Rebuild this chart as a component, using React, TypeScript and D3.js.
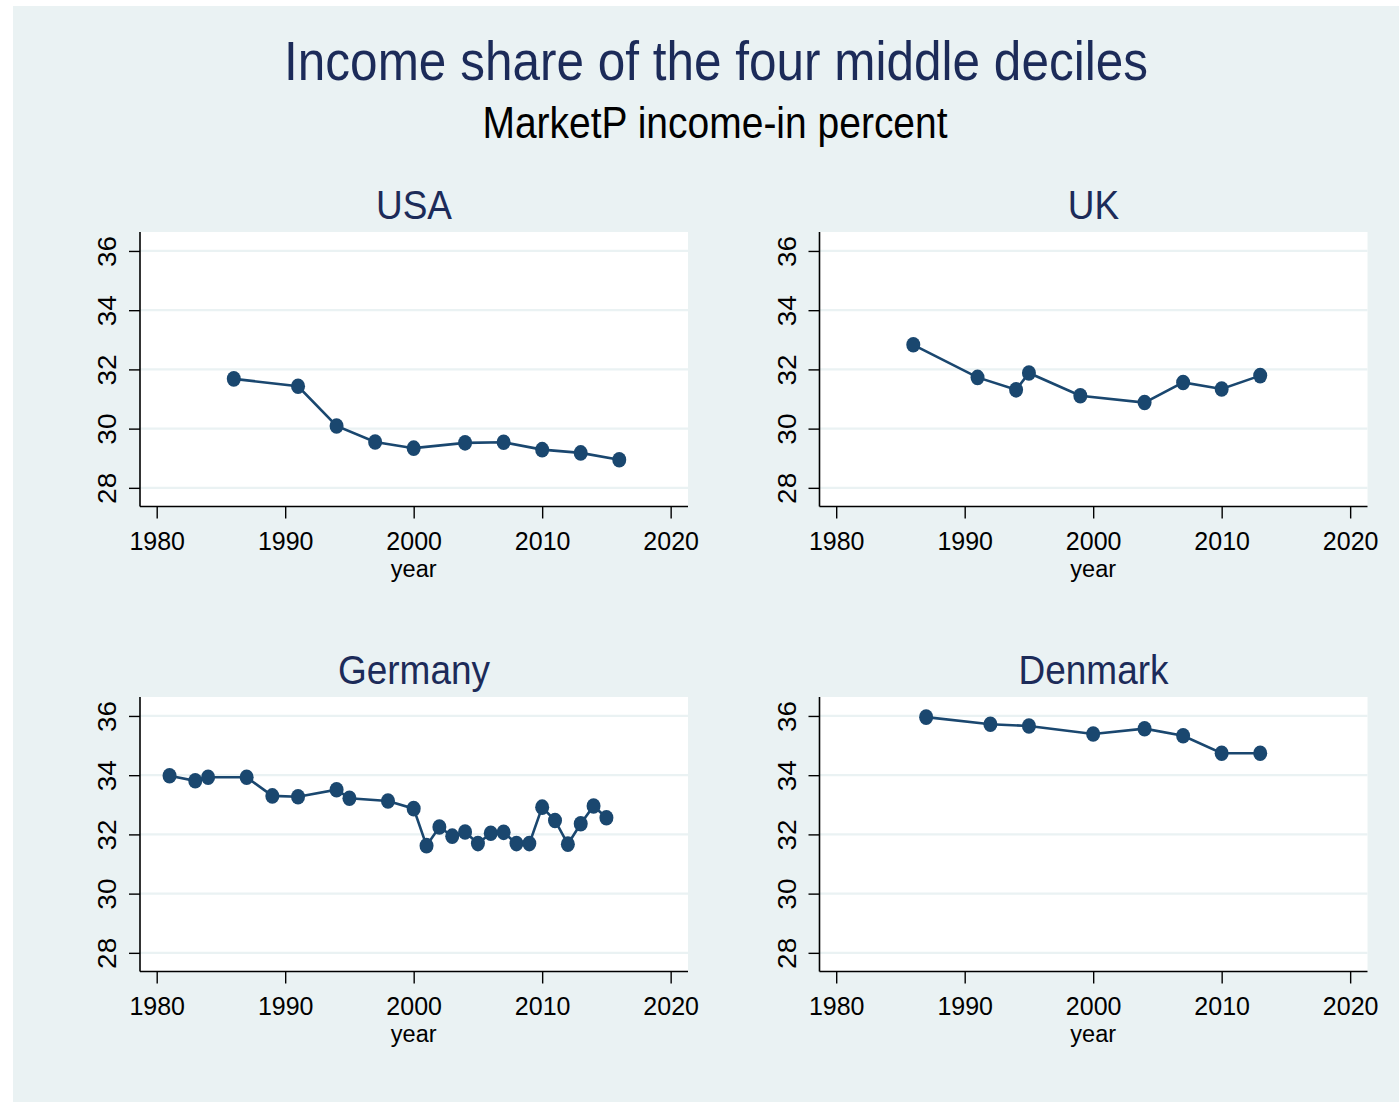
import React, { useEffect, useRef } from 'react';
import * as d3 from 'd3';

// values
const usaYears = [1986, 1991, 1994, 1997, 2000, 2004, 2007, 2010, 2013, 2016];
const usaShare = [31.68, 31.43, 30.09, 29.55, 29.34, 29.52, 29.54, 29.29, 29.18, 28.95];

const ukYears = [1986, 1991, 1994, 1995, 1999, 2004, 2007, 2010, 2013];
const ukShare = [32.83, 31.73, 31.31, 31.88, 31.11, 30.88, 31.56, 31.34, 31.79];

const deYears = [1981, 1983, 1984, 1987, 1989, 1991, 1994, 1995, 1998, 2000, 2001, 2002, 2003, 2004, 2005, 2006, 2007, 2008, 2009, 2010, 2011, 2012, 2013, 2014, 2015];
const deShare = [33.98, 33.81, 33.93, 33.93, 33.30, 33.27, 33.51, 33.22, 33.13, 32.87, 31.62, 32.25, 31.94, 32.08, 31.69, 32.04, 32.07, 31.69, 31.69, 32.92, 32.47, 31.67, 32.36, 32.96, 32.56];

const dkYears = [1987, 1992, 1995, 2000, 2004, 2007, 2010, 2013];
const dkShare = [35.96, 35.72, 35.66, 35.39, 35.57, 35.33, 34.74, 34.74];

const countries = ['USA', 'UK', 'Germany', 'Denmark'];
const xTicks = [1980, 1990, 2000, 2010, 2020];
const yTicks = [28, 30, 32, 34, 36];

const title = 'Income share of the four middle deciles';
const subtitle = 'MarketP income-in percent';
const xLabel = 'year';

const W = 1399;
const H = 1102;
const BG = '#eaf2f3';
const NAVY = '#1c2b59';
const LINE = '#1a476f';
const FONT = 'Arial, "Liberation Sans", Helvetica, sans-serif';
const STRETCH = 1.12; // the original is a bit taller than wide

const App = () => {
  const ref = useRef<SVGSVGElement>(null);

  useEffect(() => {
    const svg = d3.select(ref.current);
    svg.selectAll('*').remove();

    svg.append('rect').attr('x', 13).attr('y', 6).attr('width', W - 13).attr('height', H - 6).attr('fill', BG);

    const label = (sel, x: number, y: number, size: number, color: string, txt: string, sy = STRETCH) =>
      sel.append('text')
        .attr('transform', `translate(${x},${y}) scale(1,${sy})`)
        .attr('text-anchor', 'middle')
        .attr('font-family', FONT).attr('font-size', size)
        .attr('fill', color)
        .text(txt);

    label(svg, 716, 80, 49.5, NAVY, title);
    label(svg, 715, 138, 39, '#000', subtitle);

    const series = [
      { years: usaYears, share: usaShare },
      { years: ukYears, share: ukShare },
      { years: deYears, share: deShare },
      { years: dkYears, share: dkShare },
    ];

    const pw = 548;
    const ph = 274.5;

    countries.forEach((name, i) => {
      const left = i % 2 === 0 ? 140 : 819.5;
      const top = i < 2 ? 232 : 697;

      const x = d3.scaleLinear().domain([1978.7, 2021.35]).range([left, left + pw]);
      const y = d3.scaleLinear().domain([27.37, 36.64]).range([top + ph, top]);

      const g = svg.append('g');

      label(g, left + 274, top - 13, 37, NAVY, name);

      g.append('rect')
        .attr('x', left).attr('y', top)
        .attr('width', pw).attr('height', ph)
        .attr('fill', '#fff');

      // grid
      g.selectAll('.grid')
        .data(yTicks)
        .enter().append('line')
        .attr('x1', left).attr('x2', left + pw)
        .attr('y1', (d) => y(d)).attr('y2', (d) => y(d))
        .attr('stroke', BG).attr('stroke-width', 2.2);

      // y axis
      const yAxis = d3.axisLeft(y).tickValues(yTicks).tickSize(11).tickPadding(0).tickFormat(d3.format('d'));
      const ya = g.append('g').attr('transform', `translate(${left},0)`).call(yAxis);
      ya.select('.domain').attr('stroke', '#000').attr('stroke-width', 1.6)
        .attr('d', `M0,${top}V${top + ph}`);
      ya.selectAll('.tick line').attr('stroke', '#000').attr('stroke-width', 1.4);
      ya.selectAll('.tick text')
        .attr('font-family', FONT).attr('font-size', 25).attr('fill', '#000')
        .attr('x', 0).attr('dy', 0)
        .attr('text-anchor', 'middle')
        .attr('transform', `translate(-24,0) scale(1,${STRETCH}) rotate(-90)`);

      // x axis
      const xAxis = d3.axisBottom(x).tickValues(xTicks).tickSize(12).tickPadding(0).tickFormat(d3.format('d'));
      const xa = g.append('g').attr('transform', `translate(0,${top + ph})`).call(xAxis);
      xa.select('.domain').attr('stroke', '#000').attr('stroke-width', 1.6)
        .attr('d', `M${left},0H${left + pw}`);
      xa.selectAll('.tick line').attr('stroke', '#000').attr('stroke-width', 1.4);
      xa.selectAll('.tick text')
        .attr('font-family', FONT).attr('font-size', 25).attr('fill', '#000')
        .attr('y', 43.5).attr('dy', 0);

      label(g, x(2000), top + ph + 70, 23.5, '#000', xLabel, 1);

      const s = series[i];
      const pts = s.years.map((yr, k) => [yr, s.share[k]] as [number, number]);

      const line = d3.line<[number, number]>().x((d) => x(d[0])).y((d) => y(d[1]));
      g.append('path')
        .datum(pts)
        .attr('d', line)
        .attr('fill', 'none')
        .attr('stroke', LINE)
        .attr('stroke-width', 2.6);

      g.selectAll('.dot')
        .data(pts)
        .enter().append('ellipse')
        .attr('cx', (d) => x(d[0]))
        .attr('cy', (d) => y(d[1]))
        .attr('rx', 7)
        .attr('ry', 7.8)
        .attr('fill', LINE);
    });
  }, []);

  return (
    <div style={{ position: 'absolute', left: 0, top: 0 }}>
      <svg ref={ref} width={W} height={H} style={{ display: 'block', background: '#fff' }}></svg>
    </div>
  );
};

export default App;
